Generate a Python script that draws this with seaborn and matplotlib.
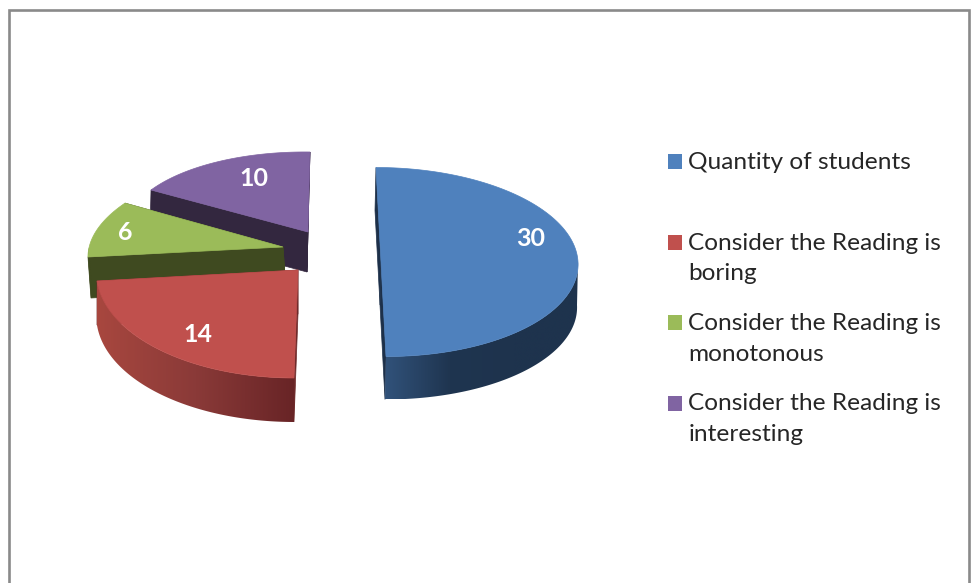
import numpy as np
import matplotlib
matplotlib.use("Agg")
import matplotlib.pyplot as plt
from matplotlib.patches import Polygon, Rectangle
import seaborn as sns

# Survey answers
labels = ["Quantity of students",
          "Consider the Reading is\nboring",
          "Consider the Reading is\nmonotonous",
          "Consider the Reading is\ninteresting"]
values = [30, 14, 6, 10]

# Slice styling
top_colors = ["#4f81bd", "#c0504d", "#9bbb59", "#8064a2"]
cut_colors = ["#1d3049", "#6e2a2a", "#3f4a20", "#33273f"]
side_ramps = [["#31527a", "#1f3550", "#1e334d", "#1e334d"],
              ["#a8473f", "#8a3a38", "#682426"],
              ["#3f4a20", "#3f4a20"],
              ["#33273f", "#33273f"]]

# Projected frame of each exploded slice: apex, x-radius, y-radius, thickness (pixels)
apexes = [(381, 262), (298, 270), (283, 247), (308, 232)]
x_axes = [(197, 0), (201.7, 0.3), (194, -0.7), (182.4, 2.3)]
y_axes = [(-5, -94.5), (4, -108), (20, -89), (2, -80)]
depths = [(-1, 43), (0, 44), (3, 41), (-1, 40)]

label_pos = [(531, 239), (198, 335), (125, 233), (254, 178)]
legend_y = [161.5, 242, 322.5, 403]

sns.set_theme(style="white")
plt.rcParams["font.family"] = ["Lato", "DejaVu Sans"]

fig = plt.figure(figsize=(9.71, 5.83), dpi=100)
ax = fig.add_axes([0, 0, 1, 1])

# Chart frame; its lower edge runs off the canvas
ax.plot([9, 9, 969, 969], [590, 10, 10, 590], color="#8a8a8a", lw=1.9,
        solid_joinstyle="miter", zorder=1)

# Slice angles, clockwise from twelve o'clock
edges = np.deg2rad(np.concatenate([[0], np.cumsum(values)]) / sum(values) * 360)


def project(i, theta):
    a, ex, ey = map(np.asarray, (apexes[i], x_axes[i], y_axes[i]))
    return a + np.outer(np.sin(theta), ex) + np.outer(np.cos(theta), ey)


# Back slices first so the nearer ones overlap them
z = 2
for i in [3, 2, 1, 0]:
    start, stop = edges[i], edges[i + 1]
    rim = project(i, np.linspace(start, stop, 181))
    apex = np.array(apexes[i], dtype=float)
    depth = np.array(depths[i], dtype=float)

    # Radial cut faces
    for end in (rim[0], rim[-1]):
        quad = [apex, end, end + depth, apex + depth]
        ax.add_patch(Polygon(quad, closed=True, fc=cut_colors[i], ec=cut_colors[i],
                             lw=0.5, zorder=z))
    z += 1

    # Outer wall: only the camera-facing arc, shaded left to right
    lo, hi = max(start, np.pi / 2), min(stop, 3 * np.pi / 2)
    if lo < hi:
        wall_rim = project(i, np.linspace(lo, hi, 181))
        wall = np.vstack([wall_rim, (wall_rim + depth)[::-1]])
        x0, x1 = wall[:, 0].min(), wall[:, 0].max()
        y0, y1 = wall[:, 1].min(), wall[:, 1].max()
        ramp = np.array(sns.blend_palette(side_ramps[i], 256))[None, :, :3]
        clip = Polygon(wall, closed=True, transform=ax.transData, fc="none", ec="none")
        image = ax.imshow(ramp, extent=(x0, x1, y1, y0), aspect="auto", zorder=z,
                          interpolation="bilinear")
        ax.add_patch(clip)
        image.set_clip_path(clip)
    z += 1

    # Top face
    outline = np.vstack([apex, rim])
    ax.add_patch(Polygon(outline, closed=True, fc=top_colors[i], ec=top_colors[i],
                         lw=0.5, zorder=z))
    z += 1

    ax.text(*label_pos[i], str(values[i]), color="white", fontsize=18, fontweight="bold",
            ha="center", va="center", zorder=50)

# Legend
for label, color, y in zip(labels, top_colors, legend_y):
    ax.add_patch(Rectangle((667.5, y - 7.5), 14.5, 15, fc=color, ec="none", zorder=50))
    ax.text(688.5, y - 9.5, label, color="#262626", fontsize=17.6, ha="left", va="top",
            linespacing=1.56, zorder=50)

ax.set_xlim(0, 971)
ax.set_ylim(583, 0)
ax.axis("off")

fig.savefig("out.png", dpi=100, facecolor="white")
